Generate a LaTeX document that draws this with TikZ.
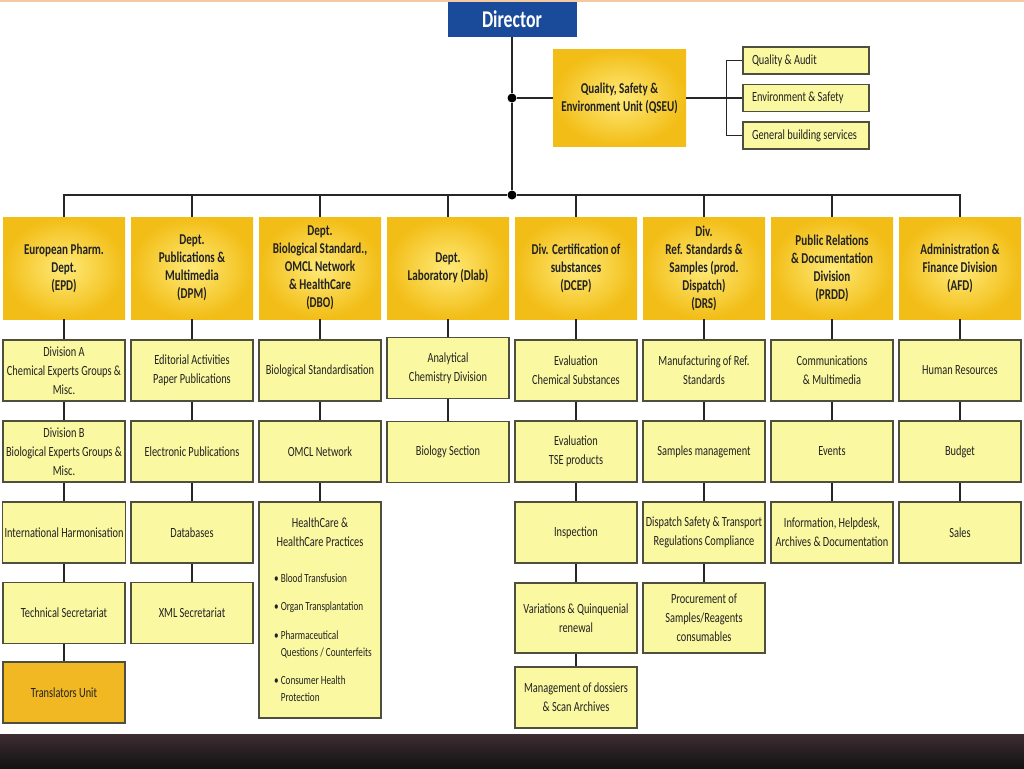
\documentclass[tikz,border=0pt]{standalone}
\usepackage{fontspec}
\setmainfont{Carlito}[FakeStretch=0.74]
\usepackage{tikz}
\usetikzlibrary{positioning}
\definecolor{dirblue}{HTML}{1A4B9B}
\definecolor{gold}{HTML}{F2BD16}
\definecolor{lightgold}{HTML}{FFEA78}
\definecolor{paleyellow}{HTML}{FBF8A2}
\definecolor{olive}{HTML}{4F4F40}
\definecolor{amber}{HTML}{F2B823}
\definecolor{ink}{HTML}{222222}
\definecolor{peach}{HTML}{F3C9A2}
\definecolor{bandtop}{HTML}{3E2D32}
\definecolor{bandbot}{HTML}{121212}
\newcommand{\qtext}[1]{\makebox[54pt][l]{#1}}

\begin{document}
\begin{tikzpicture}[
  x=0.5pt, y=-0.5pt,
  boss/.style={rectangle, fill=dirblue, text=white, minimum width=64.5pt,
               minimum height=17.5pt, font=\fontsize{12}{14}\selectfont\bfseries},
  dept/.style={rectangle, inner color=lightgold, outer color=gold, minimum width=61pt,
               minimum height=51pt, align=center, inner sep=1pt, text=ink,
               font=\fontsize{7.5}{9}\selectfont\bfseries},
  sub/.style={rectangle, draw=olive, fill=paleyellow, line width=0.7pt, minimum width=61pt,
              minimum height=30.5pt, align=center, inner sep=1pt, text=ink,
              font=\fontsize{7}{9.5}\selectfont},
  tall/.style={minimum height=35pt},
  qbox/.style={sub, minimum width=63pt, minimum height=13.5pt},
  link/.style={draw=black!85, line width=0.7pt},
  trunk/.style={link, line width=1pt},
  dot/.style={circle, fill=black, inner sep=0pt, minimum size=4.5pt}
]
\useasboundingbox (0,0) rectangle (1024,768);

% frame of the slide
\draw[peach, line width=0.6pt] (0,1) -- (1024,1);
\shade[top color=bandtop, bottom color=bandbot] (0,734) rectangle (1024,768);

% top
\node[boss] (dir) at (512,19.5) {Director};
\node[dot] (j1) at (512,98) {};
\node[dot] (j2) at (512,195) {};
\node[dept, minimum width=66.5pt, minimum height=48.5pt] (qseu) at (619.5,98)
  {Quality, Safety \&\\Environment Unit (QSEU)};
\node[qbox] (qaudit) at (806,60.5) {\qtext{Quality \& Audit}};
\node[qbox] (envsafe) at (806,98) {\qtext{Environment \& Safety}};
\node[qbox] (genbuild) at (806,135.5) {\qtext{General building services}};

% departments
\node[dept] (h1) at (64,268) {European Pharm.\\Dept.\\(EPD)};
\node[dept] (h2) at (192,268) {Dept.\\Publications \&\\Multimedia\\(DPM)};
\node[dept] (h3) at (320,268) {Dept.\\Biological Standard.,\\OMCL Network\\\& HealthCare\\(DBO)};
\node[dept] (h4) at (448,268) {Dept.\\Laboratory (Dlab)};
\node[dept] (h5) at (576,268) {Div. Certification of\\substances\\(DCEP)};
\node[dept] (h6) at (704,268) {Div.\\Ref. Standards \&\\Samples (prod.\\Dispatch)\\(DRS)};
\node[dept] (h7) at (832,268) {Public Relations\\\& Documentation\\Division\\(PRDD)};
\node[dept] (h8) at (960,268) {Administration \&\\Finance Division\\(AFD)};

% EPD
\node[sub] (a1) at (64,370.5) {Division A\\Chemical Experts Groups \&\\Misc.};
\node[sub] (a2) at (64,451.5) {Division B\\Biological Experts Groups \&\\Misc.};
\node[sub] (a3) at (64,532.5) {International Harmonisation};
\node[sub] (a4) at (64,613) {Technical Secretariat};
\node[sub, fill=amber] (a5) at (64,692.5) {Translators Unit};

% DPM
\node[sub] (b1) at (192,370.5) {Editorial Activities\\Paper Publications};
\node[sub] (b2) at (192,451.5) {Electronic Publications};
\node[sub] (b3) at (192,532.5) {Databases};
\node[sub] (b4) at (192,613) {XML Secretariat};

% DBO
\node[sub, minimum height=108pt] (c3) at (320,610) {HealthCare \&\\HealthCare Practices\\[11pt]
  \hspace*{3pt}{\fontsize{6.2}{8.3}\selectfont\begin{tabular}{@{}l@{\,}l@{}}
  \textbullet & Blood Transfusion\\[6pt]
  \textbullet & Organ Transplantation\\[6pt]
  \textbullet & Pharmaceutical\\
              & Questions / Counterfeits\\[6pt]
  \textbullet & Consumer Health\\
              & Protection
  \end{tabular}}\\[-3pt]};
\node[sub] (c1) at (320,370.5) {Biological Standardisation};
\node[sub] (c2) at (320,451.5) {OMCL Network};

% Dlab
\node[sub] (d1) at (448,368) {Analytical\\Chemistry Division};
\node[sub] (d2) at (448,452) {Biology Section};

% DCEP
\node[sub] (e1) at (576,370.5) {Evaluation\\Chemical Substances};
\node[sub] (e2) at (576,451.5) {Evaluation\\TSE products};
\node[sub] (e3) at (576,532.5) {Inspection};
\node[sub, tall] (e4) at (576,618) {Variations \& Quinquenial\\renewal};
\node[sub] (e5) at (576,697.5) {Management of dossiers\\\& Scan Archives};

% DRS
\node[sub] (f1) at (704,370.5) {Manufacturing of Ref.\\Standards};
\node[sub] (f2) at (704,451.5) {Samples management};
\node[sub] (f3) at (704,532.5) {Dispatch Safety \& Transport\\Regulations Compliance};
\node[sub, tall] (f4) at (704,618) {Procurement of\\Samples/Reagents\\consumables};

% PRDD
\node[sub] (g1) at (832,370.5) {Communications\\\& Multimedia};
\node[sub] (g2) at (832,451.5) {Events};
\node[sub] (g3) at (832,532.5) {Information, Helpdesk,\\Archives \& Documentation};

% AFD
\node[sub] (k1) at (960,370.5) {Human Resources};
\node[sub] (k2) at (960,451.5) {Budget};
\node[sub] (k3) at (960,532.5) {Sales};

% connectors
\draw[trunk] (dir) -- (j1) -- (j2);
\draw[link] (j1) -- (qseu) -- (envsafe);
\draw[link] (qaudit.west) -- ++(-8pt,0) |- (genbuild.west);
\draw[link] (h1.north) |- (j2) -| (h8.north);
\foreach \i in {2,...,7}
  \draw[link] (h\i.north) -- (h\i.north |- j2);

\draw[link] (h1) -- (a1) -- (a2) -- (a3) -- (a4) -- (a5);
\draw[link] (h2) -- (b1) -- (b2) -- (b3) -- (b4);
\draw[link] (h3) -- (c1) -- (c2) -- (c3);
\draw[link] (h4) -- (d1) -- (d2);
\draw[link] (h5) -- (e1) -- (e2) -- (e3) -- (e4) -- (e5);
\draw[link] (h6) -- (f1) -- (f2) -- (f3) -- (f4);
\draw[link] (h7) -- (g1) -- (g2) -- (g3);
\draw[link] (h8) -- (k1) -- (k2) -- (k3);
\end{tikzpicture}
\end{document}
